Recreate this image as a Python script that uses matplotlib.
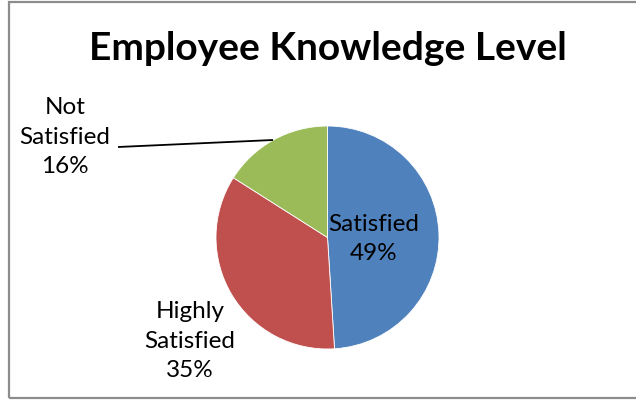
import matplotlib
matplotlib.use("Agg")
import matplotlib.pyplot as plt
from matplotlib.patches import Rectangle

title = "Employee Knowledge Level"
categories = ["Satisfied", "Highly\nSatisfied", "Not\nSatisfied"]
values = [49, 35, 16]
colors = ["#4F81BD", "#C0504D", "#9BBB59"]

W, H = 636, 400
fig = plt.figure(figsize=(W / 100, H / 100), dpi=100)
ax = fig.add_axes([0, 0, 1, 1])

font = ["Lato", "DejaVu Sans"]

cx, cy, r = 327.5, 237.5, 111.5
# y axis is inverted (pixel-like), so angle 270 is the top and
# counterclock=True draws clockwise on screen
wedges, _ = ax.pie(values, colors=colors, startangle=270, counterclock=True,
                   center=(cx, cy), radius=r,
                   wedgeprops=dict(edgecolor="white", linewidth=0.6))
ax.set_xlim(0, W)
ax.set_ylim(H, 0)
ax.set_aspect("equal")
ax.axis("off")

total = sum(values)
pct = [f"{round(v / total * 100)}%" for v in values]

lbl_pos = [(374, 239), (190, 341), (65, 137)]
for name, p, (x, y) in zip(categories, pct, lbl_pos):
    ax.text(x, y, f"{name}\n{p}", ha="center", va="center", fontsize=17.5,
            family=font, color="#000000", linespacing=1.5)

# leader line for Not Satisfied
ax.plot([118, 273], [147, 140], color="black", lw=1.3, solid_capstyle="butt")

ax.text(328, 49, title, ha="center", va="center", fontsize=28,
        fontweight="bold", family=font, color="black")

fig.patches.append(Rectangle((9 / W, 2 / H), 1.2, 396 / H, transform=fig.transFigure,
                             fill=False, edgecolor="#8c8c8c", lw=1.6))

fig.savefig("out.png", dpi=100)
